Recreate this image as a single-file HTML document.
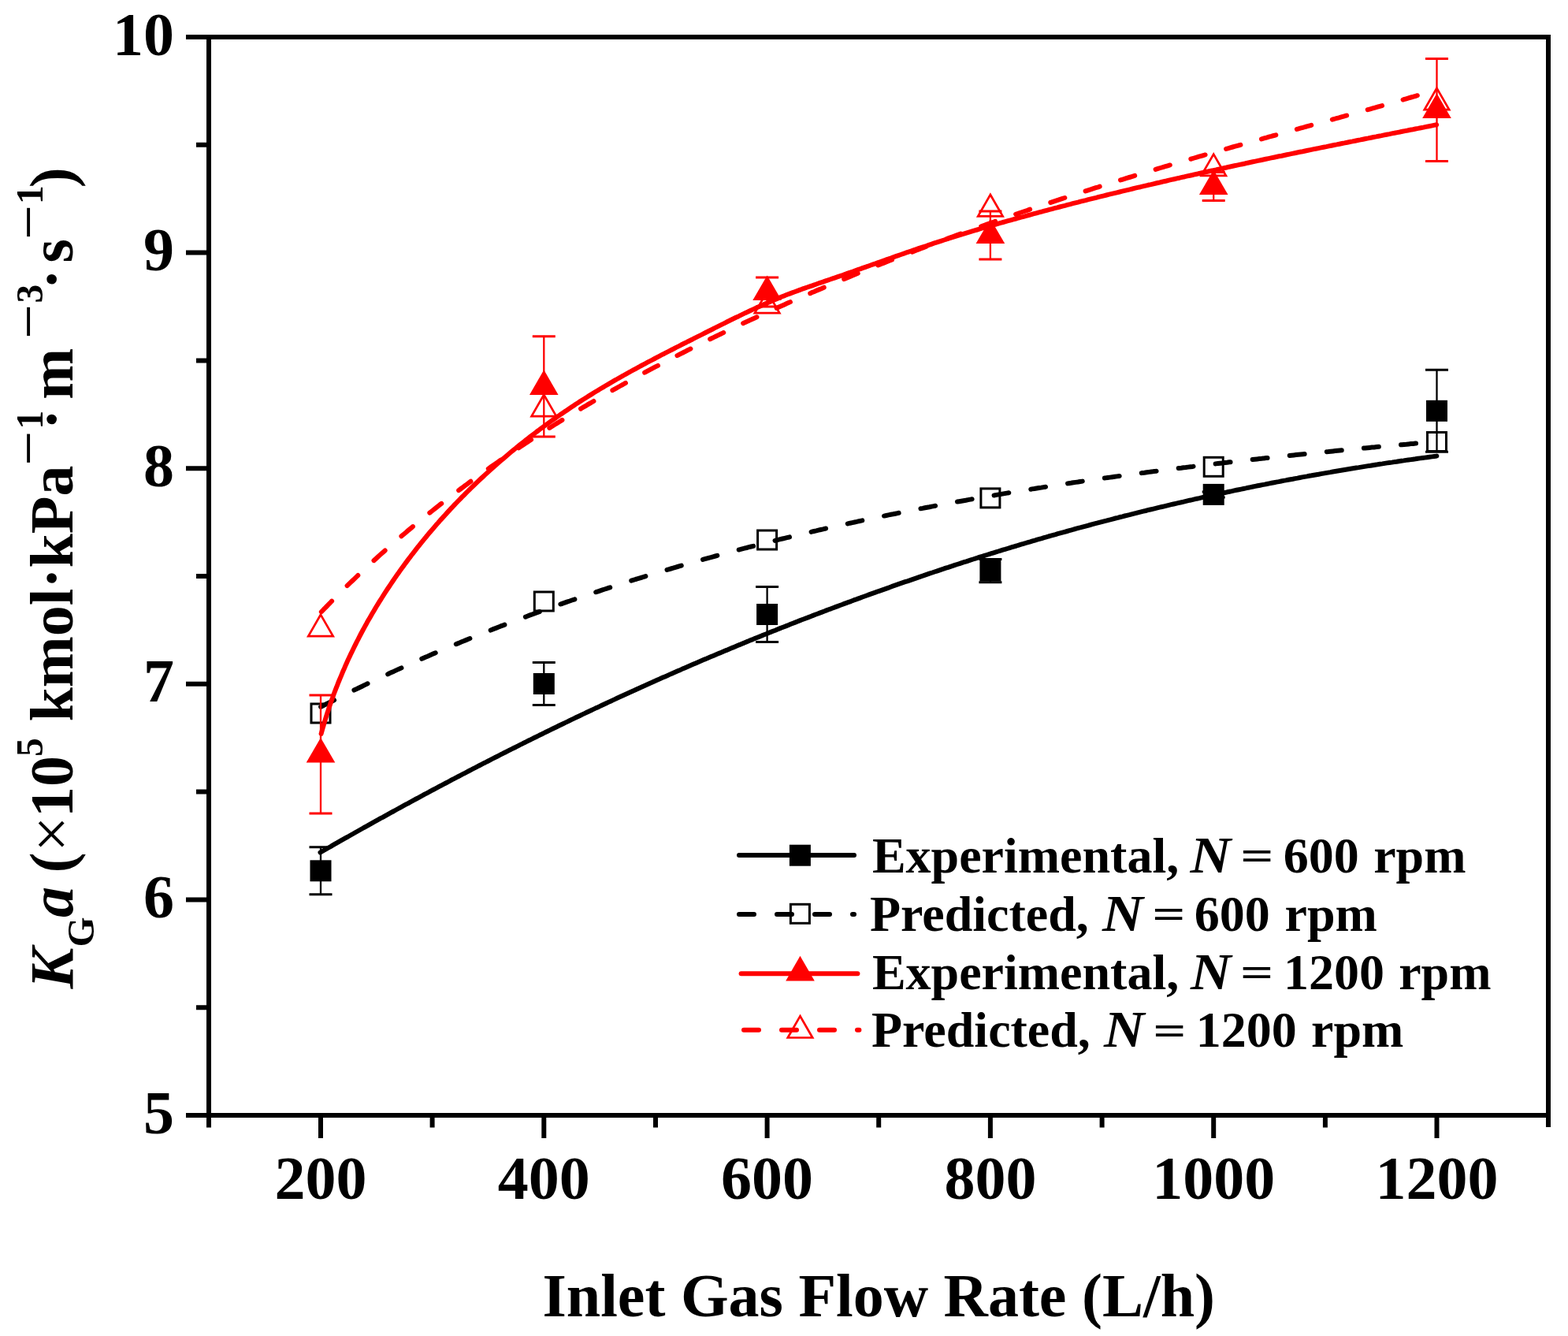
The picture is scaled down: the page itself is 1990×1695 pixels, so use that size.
<!DOCTYPE html><html><head><meta charset="utf-8"><style>html,body{margin:0;padding:0;background:#fff}svg{display:block}text{font-family:"Liberation Serif","Times New Roman",serif}</style></head><body>
<svg width="1990" height="1695" viewBox="0 0 1990 1695">
<rect width="1990" height="1695" fill="#fff"/>
<g stroke="#000" stroke-width="6" fill="none">
<path d="M265,47 H1965 V1415 H265 Z" stroke-linejoin="miter"/>
<path d="M407.0,1415 V1444 M690.3,1415 V1444 M973.6,1415 V1444 M1256.9,1415 V1444 M1540.2,1415 V1444 M1823.5,1415 V1444 M548.6,1415 V1430.5 M832.0,1415 V1430.5 M1115.2,1415 V1430.5 M1398.6,1415 V1430.5 M1681.9,1415 V1430.5 M265,1415 V1430.5 M1965,1415 V1430 M265,1415.0 H236 M265,1141.4 H236 M265,867.8 H236 M265,594.2 H236 M265,320.6 H236 M265,47.0 H236 M265,1278.2 H249 M265,1004.6 H249 M265,731.0 H249 M265,457.4 H249 M265,183.8 H249" stroke-linecap="butt"/>
</g>
<g font-weight="bold" font-size="78" fill="#000">
<text x="221" y="1437.5" text-anchor="end">5</text>
<text x="221" y="1163.9" text-anchor="end">6</text>
<text x="221" y="890.3" text-anchor="end">7</text>
<text x="221" y="616.7" text-anchor="end">8</text>
<text x="221" y="343.1" text-anchor="end">9</text>
<text x="221" y="69.5" text-anchor="end">10</text>
<text x="407.0" y="1521" text-anchor="middle">200</text>
<text x="690.3" y="1521" text-anchor="middle">400</text>
<text x="973.6" y="1521" text-anchor="middle">600</text>
<text x="1256.9" y="1521" text-anchor="middle">800</text>
<text x="1540.2" y="1521" text-anchor="middle">1000</text>
<text x="1823.5" y="1521" text-anchor="middle">1200</text>
</g>
<text x="688.4" y="1669.8" font-weight="bold" font-size="78">Inlet Gas Flow Rate (L/h)</text>
<g transform="translate(92,1255) rotate(-90)" fill="#000">
<text x="0.6" y="0.0" font-size="78" font-weight="bold" font-style="italic">K</text>
<text x="53.6" y="27.3" font-size="49" font-weight="bold" font-style="normal">G</text>
<text x="91.1" y="0.0" font-size="78" font-weight="bold" font-style="italic">a</text>
<text x="147.6" y="0.0" font-size="78" font-weight="bold" font-style="normal">(</text>
<text x="174.1" y="0.0" font-size="81" font-weight="normal" font-style="normal">×</text>
<text x="218.1" y="0.0" font-size="78" font-weight="bold" font-style="normal">10</text>
<text x="295.1" y="-38.0" font-size="47.5" font-weight="bold" font-style="normal">5</text>
<text x="339.4" y="0.0" font-size="78" font-weight="bold" font-style="normal">kmol·kPa</text>
<text x="664.3" y="-30.0" font-size="78" font-weight="normal" font-style="normal">−</text>
<text x="710.4" y="-38.0" font-size="47.5" font-weight="bold" font-style="normal">1</text>
<text x="710.0" y="0.0" font-size="78" font-weight="bold" font-style="normal">·</text>
<text x="748.3" y="0.0" font-size="78" font-weight="bold" font-style="normal">m</text>
<text x="825.0" y="-30.0" font-size="78" font-weight="normal" font-style="normal">−</text>
<text x="870.6" y="-38.0" font-size="47.5" font-weight="bold" font-style="normal">3</text>
<text x="887.8" y="0.0" font-size="78" font-weight="bold" font-style="normal">·</text>
<text x="921.4" y="0.0" font-size="78" font-weight="bold" font-style="normal">s</text>
<text x="951.0" y="-30.0" font-size="78" font-weight="normal" font-style="normal">−</text>
<text x="995.9" y="-38.0" font-size="47.5" font-weight="bold" font-style="normal">1</text>
<text x="1016.8" y="0.0" font-size="78" font-weight="bold" font-style="normal">)</text>
</g>
<g fill="none" stroke-width="6" stroke-linecap="round" stroke-linejoin="round">
<path d="M406.5,1081.5 L409.1,1080.0 L411.8,1078.5 L414.4,1077.0 L417.0,1075.5 L419.7,1074.0 L422.3,1072.4 L424.9,1070.9 L427.6,1069.4 L430.2,1067.9 L432.8,1066.4 L435.5,1064.9 L438.1,1063.4 L440.8,1062.0 L443.4,1060.5 L446.0,1059.0 L448.7,1057.5 L451.3,1056.0 L454.0,1054.5 L456.6,1053.0 L459.3,1051.5 L461.9,1050.0 L464.5,1048.6 L467.2,1047.1 L469.8,1045.6 L472.5,1044.1 L475.1,1042.7 L477.8,1041.2 L480.5,1039.7 L483.1,1038.2 L485.8,1036.8 L488.4,1035.3 L491.1,1033.8 L493.7,1032.4 L496.4,1030.9 L499.0,1029.5 L501.7,1028.0 L504.4,1026.5 L507.0,1025.1 L509.7,1023.6 L512.3,1022.2 L515.0,1020.7 L517.7,1019.3 L520.3,1017.8 L523.0,1016.4 L525.7,1014.9 L528.3,1013.5 L531.0,1012.1 L533.7,1010.6 L536.4,1009.2 L539.0,1007.7 L541.7,1006.3 L544.4,1004.9 L547.0,1003.4 L549.7,1002.0 L552.4,1000.6 L555.1,999.2 L557.8,997.7 L560.4,996.3 L563.1,994.9 L565.8,993.5 L568.5,992.1 L571.2,990.7 L573.8,989.2 L576.5,987.8 L579.2,986.4 L581.9,985.0 L584.6,983.6 L587.3,982.2 L590.0,980.8 L592.7,979.4 L595.3,978.0 L598.0,976.6 L600.7,975.2 L603.4,973.8 L606.1,972.4 L608.8,971.0 L611.5,969.6 L614.2,968.2 L616.9,966.9 L619.6,965.5 L622.3,964.1 L625.0,962.7 L627.7,961.3 L630.4,960.0 L633.1,958.6 L635.8,957.2 L638.5,955.8 L641.2,954.5 L643.9,953.1 L646.6,951.7 L649.3,950.4 L652.1,949.0 L654.8,947.7 L657.5,946.3 L660.2,944.9 L662.9,943.6 L665.6,942.2 L668.3,940.9 L671.0,939.5 L673.8,938.2 L676.5,936.8 L679.2,935.5 L681.9,934.2 L684.6,932.8 L687.4,931.5 L690.1,930.1 L692.8,928.8 L695.5,927.5 L698.3,926.1 L701.0,924.8 L703.7,923.5 L706.4,922.2 L709.2,920.8 L711.9,919.5 L714.6,918.2 L717.4,916.9 L720.1,915.6 L722.8,914.3 L725.6,912.9 L728.3,911.6 L731.0,910.3 L733.8,909.0 L736.5,907.7 L739.2,906.4 L742.0,905.1 L744.7,903.8 L747.5,902.5 L750.2,901.2 L753.0,899.9 L755.7,898.6 L758.4,897.4 L761.2,896.1 L763.9,894.8 L766.7,893.5 L769.4,892.2 L772.2,890.9 L774.9,889.7 L777.7,888.4 L780.4,887.1 L783.2,885.8 L785.9,884.6 L788.7,883.3 L791.5,882.0 L794.2,880.8 L797.0,879.5 L799.7,878.3 L802.5,877.0 L805.3,875.8 L808.0,874.5 L810.8,873.2 L813.5,872.0 L816.3,870.7 L819.1,869.5 L821.8,868.3 L824.6,867.0 L827.4,865.8 L830.2,864.5 L832.9,863.3 L835.7,862.1 L838.5,860.8 L841.2,859.6 L844.0,858.4 L846.8,857.2 L849.6,855.9 L852.3,854.7 L855.1,853.5 L857.9,852.3 L860.7,851.1 L863.5,849.9 L866.2,848.6 L869.0,847.4 L871.8,846.2 L874.6,845.0 L877.4,843.8 L880.2,842.6 L882.9,841.4 L885.7,840.2 L888.5,839.0 L891.3,837.8 L894.1,836.6 L896.9,835.5 L899.7,834.3 L902.5,833.1 L905.3,831.9 L908.1,830.7 L910.9,829.5 L913.7,828.4 L916.5,827.2 L919.3,826.0 L922.1,824.9 L924.9,823.7 L927.7,822.5 L930.5,821.4 L933.3,820.2 L936.1,819.0 L938.9,817.9 L941.7,816.7 L944.5,815.6 L947.3,814.4 L950.1,813.3 L952.9,812.1 L955.7,811.0 L958.5,809.8 L961.3,808.7 L964.2,807.6 L967.0,806.4 L969.8,805.3 L972.6,804.2 L975.4,803.0 L978.2,801.9 L981.0,800.8 L983.9,799.7 L986.7,798.5 L989.5,797.4 L992.3,796.3 L995.1,795.2 L998.0,794.1 L1000.8,793.0 L1003.6,791.8 L1006.4,790.7 L1009.3,789.6 L1012.1,788.5 L1014.9,787.4 L1017.7,786.3 L1020.6,785.2 L1023.4,784.2 L1026.2,783.1 L1029.1,782.0 L1031.9,780.9 L1034.7,779.8 L1037.6,778.7 L1040.4,777.6 L1043.2,776.6 L1046.1,775.5 L1048.9,774.4 L1051.8,773.3 L1054.6,772.3 L1057.4,771.2 L1060.3,770.1 L1063.1,769.1 L1066.0,768.0 L1068.8,767.0 L1071.6,765.9 L1074.5,764.9 L1077.3,763.8 L1080.2,762.8 L1083.0,761.7 L1085.9,760.7 L1088.7,759.6 L1091.6,758.6 L1094.4,757.5 L1097.3,756.5 L1100.1,755.5 L1103.0,754.4 L1105.8,753.4 L1108.7,752.4 L1111.5,751.4 L1114.4,750.3 L1117.3,749.3 L1120.1,748.3 L1123.0,747.3 L1125.8,746.3 L1128.7,745.3 L1131.5,744.2 L1134.4,743.2 L1137.3,742.2 L1140.1,741.2 L1143.0,740.2 L1145.9,739.2 L1148.7,738.2 L1151.6,737.3 L1154.5,736.3 L1157.3,735.3 L1160.2,734.3 L1163.1,733.3 L1165.9,732.3 L1168.8,731.3 L1171.7,730.4 L1174.6,729.4 L1177.4,728.4 L1180.3,727.4 L1183.2,726.5 L1186.0,725.5 L1188.9,724.6 L1191.8,723.6 L1194.7,722.6 L1197.6,721.7 L1200.4,720.7 L1203.3,719.8 L1206.2,718.8 L1209.1,717.9 L1212.0,716.9 L1214.8,716.0 L1217.7,715.1 L1220.6,714.1 L1223.5,713.2 L1226.4,712.3 L1229.3,711.3 L1232.2,710.4 L1235.0,709.5 L1237.9,708.6 L1240.8,707.7 L1243.7,706.7 L1246.6,705.8 L1249.5,704.9 L1252.4,704.0 L1255.3,703.1 L1258.2,702.2 L1261.1,701.3 L1264.0,700.4 L1266.9,699.5 L1269.8,698.6 L1272.7,697.7 L1275.6,696.9 L1278.5,696.0 L1281.4,695.1 L1284.3,694.2 L1287.2,693.3 L1290.1,692.5 L1293.0,691.6 L1295.9,690.7 L1298.8,689.9 L1301.7,689.0 L1304.6,688.1 L1307.5,687.3 L1310.4,686.4 L1313.4,685.6 L1316.3,684.7 L1319.2,683.9 L1322.1,683.1 L1325.0,682.2 L1327.9,681.4 L1330.8,680.5 L1333.8,679.7 L1336.7,678.9 L1339.6,678.1 L1342.5,677.2 L1345.4,676.4 L1348.3,675.6 L1351.3,674.8 L1354.2,674.0 L1357.1,673.2 L1360.0,672.4 L1363.0,671.5 L1365.9,670.7 L1368.8,669.9 L1371.7,669.2 L1374.7,668.4 L1377.6,667.6 L1380.5,666.8 L1383.4,666.0 L1386.4,665.2 L1389.3,664.4 L1392.2,663.7 L1395.2,662.9 L1398.1,662.1 L1401.0,661.3 L1404.0,660.6 L1406.9,659.8 L1409.8,659.1 L1412.8,658.3 L1415.7,657.5 L1418.7,656.8 L1421.6,656.0 L1424.5,655.3 L1427.5,654.5 L1430.4,653.8 L1433.4,653.1 L1436.3,652.3 L1439.2,651.6 L1442.2,650.9 L1445.1,650.1 L1448.1,649.4 L1451.0,648.7 L1454.0,648.0 L1456.9,647.2 L1459.9,646.5 L1462.8,645.8 L1465.8,645.1 L1468.7,644.4 L1471.7,643.7 L1474.6,643.0 L1477.6,642.3 L1480.5,641.6 L1483.5,640.9 L1486.4,640.2 L1489.4,639.5 L1492.3,638.8 L1495.3,638.1 L1498.2,637.5 L1501.2,636.8 L1504.1,636.1 L1507.1,635.4 L1510.1,634.7 L1513.0,634.1 L1516.0,633.4 L1518.9,632.7 L1521.9,632.1 L1524.9,631.4 L1527.8,630.8 L1530.8,630.1 L1533.7,629.5 L1536.7,628.8 L1539.7,628.2 L1542.6,627.5 L1545.6,626.9 L1548.6,626.2 L1551.5,625.6 L1554.5,625.0 L1557.5,624.3 L1560.4,623.7 L1563.4,623.1 L1566.4,622.4 L1569.3,621.8 L1572.3,621.2 L1575.3,620.6 L1578.3,620.0 L1581.2,619.4 L1584.2,618.7 L1587.2,618.1 L1590.1,617.5 L1593.1,616.9 L1596.1,616.3 L1599.1,615.7 L1602.0,615.1 L1605.0,614.6 L1608.0,614.0 L1611.0,613.4 L1613.9,612.8 L1616.9,612.2 L1619.9,611.6 L1622.9,611.1 L1625.9,610.5 L1628.8,609.9 L1631.8,609.4 L1634.8,608.8 L1637.8,608.2 L1640.8,607.7 L1643.7,607.1 L1646.7,606.6 L1649.7,606.0 L1652.7,605.4 L1655.7,604.9 L1658.7,604.4 L1661.6,603.8 L1664.6,603.3 L1667.6,602.7 L1670.6,602.2 L1673.6,601.7 L1676.6,601.1 L1679.6,600.6 L1682.5,600.1 L1685.5,599.6 L1688.5,599.1 L1691.5,598.5 L1694.5,598.0 L1697.5,597.5 L1700.5,597.0 L1703.5,596.5 L1706.5,596.0 L1709.5,595.5 L1712.4,595.0 L1715.4,594.5 L1718.4,594.0 L1721.4,593.5 L1724.4,593.1 L1727.4,592.6 L1730.4,592.1 L1733.4,591.6 L1736.4,591.1 L1739.4,590.7 L1742.4,590.2 L1745.4,589.7 L1748.4,589.3 L1751.4,588.8 L1754.4,588.4 L1757.4,587.9 L1760.4,587.4 L1763.4,587.0 L1766.4,586.6 L1769.4,586.1 L1772.4,585.7 L1775.4,585.2 L1778.4,584.8 L1781.4,584.4 L1784.4,583.9 L1787.4,583.5 L1790.4,583.1 L1793.4,582.7 L1796.4,582.3 L1799.4,581.8 L1802.4,581.4 L1805.4,581.0 L1808.4,580.6 L1811.4,580.2 L1814.4,579.8 L1817.4,579.4 L1820.4,579.0 L1823.4,578.6" stroke="#000"/>
<path d="M406.7,897.1 L409.3,895.7 L411.9,894.4 L414.6,893.0 L417.2,891.7 L419.9,890.3 L422.5,889.0 L425.1,887.7 L427.8,886.3 L430.4,885.0 L433.1,883.7 L435.7,882.4 L438.3,881.1 L441.0,879.8 L443.6,878.4 L446.3,877.1 L448.9,875.8 L451.6,874.6 L454.3,873.3 L456.9,872.0 L459.6,870.7 L462.2,869.4 L464.9,868.1 L467.5,866.9 L470.2,865.6 L472.9,864.3 L475.5,863.1 L478.2,861.8 L480.9,860.5 L483.5,859.3 L486.2,858.0 L488.9,856.8 L491.6,855.6 L494.2,854.3 L496.9,853.1 L499.6,851.9 L502.3,850.6 L504.9,849.4 L507.6,848.2 L510.3,847.0 L513.0,845.8 L515.7,844.5 L518.3,843.3 L521.0,842.1 L523.7,840.9 L526.4,839.7 L529.1,838.6 L531.8,837.4 L534.5,836.2 L537.2,835.0 L539.9,833.8 L542.6,832.7 L545.3,831.5 L548.0,830.3 L550.7,829.1 L553.4,828.0 L556.1,826.8 L558.8,825.7 L561.5,824.5 L564.2,823.4 L566.9,822.2 L569.6,821.1 L572.3,820.0 L575.0,818.8 L577.7,817.7 L580.4,816.6 L583.2,815.4 L585.9,814.3 L588.6,813.2 L591.3,812.1 L594.0,811.0 L596.7,809.9 L599.5,808.8 L602.2,807.7 L604.9,806.6 L607.6,805.5 L610.4,804.4 L613.1,803.3 L615.8,802.2 L618.5,801.1 L621.3,800.1 L624.0,799.0 L626.7,797.9 L629.5,796.9 L632.2,795.8 L634.9,794.7 L637.7,793.7 L640.4,792.6 L643.2,791.6 L645.9,790.5 L648.6,789.5 L651.4,788.4 L654.1,787.4 L656.9,786.4 L659.6,785.3 L662.4,784.3 L665.1,783.3 L667.9,782.3 L670.6,781.2 L673.4,780.2 L676.1,779.2 L678.9,778.2 L681.6,777.2 L684.4,776.2 L687.1,775.2 L689.9,774.2 L692.6,773.2 L695.4,772.2 L698.2,771.2 L700.9,770.2 L703.7,769.3 L706.5,768.3 L709.2,767.3 L712.0,766.3 L714.7,765.4 L717.5,764.4 L720.3,763.4 L723.1,762.5 L725.8,761.5 L728.6,760.6 L731.4,759.6 L734.1,758.7 L736.9,757.7 L739.7,756.8 L742.5,755.8 L745.2,754.9 L748.0,754.0 L750.8,753.0 L753.6,752.1 L756.4,751.2 L759.1,750.3 L761.9,749.3 L764.7,748.4 L767.5,747.5 L770.3,746.6 L773.1,745.7 L775.9,744.8 L778.6,743.9 L781.4,743.0 L784.2,742.1 L787.0,741.2 L789.8,740.3 L792.6,739.4 L795.4,738.6 L798.2,737.7 L801.0,736.8 L803.8,735.9 L806.6,735.0 L809.4,734.2 L812.2,733.3 L815.0,732.5 L817.8,731.6 L820.6,730.7 L823.4,729.9 L826.2,729.0 L829.0,728.2 L831.8,727.3 L834.6,726.5 L837.4,725.6 L840.2,724.8 L843.0,724.0 L845.8,723.1 L848.7,722.3 L851.5,721.5 L854.3,720.7 L857.1,719.8 L859.9,719.0 L862.7,718.2 L865.5,717.4 L868.4,716.6 L871.2,715.8 L874.0,715.0 L876.8,714.2 L879.6,713.4 L882.4,712.6 L885.3,711.8 L888.1,711.0 L890.9,710.2 L893.7,709.4 L896.6,708.6 L899.4,707.8 L902.2,707.1 L905.0,706.3 L907.9,705.5 L910.7,704.7 L913.5,704.0 L916.4,703.2 L919.2,702.5 L922.0,701.7 L924.9,700.9 L927.7,700.2 L930.5,699.4 L933.4,698.7 L936.2,697.9 L939.0,697.2 L941.9,696.4 L944.7,695.7 L947.5,695.0 L950.4,694.2 L953.2,693.5 L956.1,692.8 L958.9,692.1 L961.7,691.3 L964.6,690.6 L967.4,689.9 L970.3,689.2 L973.1,688.5 L976.0,687.7 L978.8,687.0 L981.7,686.3 L984.5,685.6 L987.3,684.9 L990.2,684.2 L993.0,683.5 L995.9,682.8 L998.7,682.1 L1001.6,681.5 L1004.5,680.8 L1007.3,680.1 L1010.2,679.4 L1013.0,678.7 L1015.9,678.0 L1018.7,677.4 L1021.6,676.7 L1024.4,676.0 L1027.3,675.4 L1030.2,674.7 L1033.0,674.0 L1035.9,673.4 L1038.7,672.7 L1041.6,672.0 L1044.5,671.4 L1047.3,670.7 L1050.2,670.1 L1053.0,669.4 L1055.9,668.8 L1058.8,668.2 L1061.6,667.5 L1064.5,666.9 L1067.4,666.2 L1070.2,665.6 L1073.1,665.0 L1076.0,664.4 L1078.8,663.7 L1081.7,663.1 L1084.6,662.5 L1087.4,661.9 L1090.3,661.2 L1093.2,660.6 L1096.1,660.0 L1098.9,659.4 L1101.8,658.8 L1104.7,658.2 L1107.5,657.6 L1110.4,657.0 L1113.3,656.4 L1116.2,655.8 L1119.0,655.2 L1121.9,654.6 L1124.8,654.0 L1127.7,653.4 L1130.6,652.8 L1133.4,652.3 L1136.3,651.7 L1139.2,651.1 L1142.1,650.5 L1145.0,649.9 L1147.8,649.4 L1150.7,648.8 L1153.6,648.2 L1156.5,647.7 L1159.4,647.1 L1162.3,646.5 L1165.1,646.0 L1168.0,645.4 L1170.9,644.9 L1173.8,644.3 L1176.7,643.7 L1179.6,643.2 L1182.4,642.6 L1185.3,642.1 L1188.2,641.6 L1191.1,641.0 L1194.0,640.5 L1196.9,639.9 L1199.8,639.4 L1202.7,638.9 L1205.6,638.3 L1208.4,637.8 L1211.3,637.3 L1214.2,636.7 L1217.1,636.2 L1220.0,635.7 L1222.9,635.2 L1225.8,634.7 L1228.7,634.1 L1231.6,633.6 L1234.5,633.1 L1237.4,632.6 L1240.3,632.1 L1243.2,631.6 L1246.1,631.1 L1249.0,630.6 L1251.9,630.1 L1254.8,629.6 L1257.7,629.1 L1260.6,628.6 L1263.4,628.1 L1266.3,627.6 L1269.2,627.1 L1272.1,626.6 L1275.0,626.1 L1277.9,625.6 L1280.8,625.2 L1283.7,624.7 L1286.6,624.2 L1289.5,623.7 L1292.5,623.2 L1295.4,622.8 L1298.3,622.3 L1301.2,621.8 L1304.1,621.4 L1307.0,620.9 L1309.9,620.4 L1312.8,620.0 L1315.7,619.5 L1318.6,619.0 L1321.5,618.6 L1324.4,618.1 L1327.3,617.7 L1330.2,617.2 L1333.1,616.8 L1336.0,616.3 L1338.9,615.9 L1341.8,615.4 L1344.7,615.0 L1347.6,614.5 L1350.5,614.1 L1353.5,613.6 L1356.4,613.2 L1359.3,612.8 L1362.2,612.3 L1365.1,611.9 L1368.0,611.5 L1370.9,611.0 L1373.8,610.6 L1376.7,610.2 L1379.6,609.8 L1382.5,609.3 L1385.5,608.9 L1388.4,608.5 L1391.3,608.1 L1394.2,607.7 L1397.1,607.3 L1400.0,606.8 L1402.9,606.4 L1405.8,606.0 L1408.7,605.6 L1411.7,605.2 L1414.6,604.8 L1417.5,604.4 L1420.4,604.0 L1423.3,603.6 L1426.2,603.2 L1429.1,602.8 L1432.0,602.4 L1435.0,602.0 L1437.9,601.6 L1440.8,601.2 L1443.7,600.8 L1446.6,600.4 L1449.5,600.0 L1452.4,599.7 L1455.4,599.3 L1458.3,598.9 L1461.2,598.5 L1464.1,598.1 L1467.0,597.8 L1469.9,597.4 L1472.9,597.0 L1475.8,596.6 L1478.7,596.2 L1481.6,595.9 L1484.5,595.5 L1487.4,595.1 L1490.3,594.8 L1493.3,594.4 L1496.2,594.0 L1499.1,593.7 L1502.0,593.3 L1504.9,593.0 L1507.8,592.6 L1510.8,592.2 L1513.7,591.9 L1516.6,591.5 L1519.5,591.2 L1522.4,590.8 L1525.3,590.5 L1528.3,590.1 L1531.2,589.8 L1534.1,589.4 L1537.0,589.1 L1539.9,588.7 L1542.8,588.4 L1545.8,588.0 L1548.7,587.7 L1551.6,587.4 L1554.5,587.0 L1557.4,586.7 L1560.3,586.3 L1563.3,586.0 L1566.2,585.7 L1569.1,585.3 L1572.0,585.0 L1574.9,584.7 L1577.9,584.3 L1580.8,584.0 L1583.7,583.7 L1586.6,583.4 L1589.5,583.0 L1592.4,582.7 L1595.4,582.4 L1598.3,582.1 L1601.2,581.8 L1604.1,581.4 L1607.0,581.1 L1609.9,580.8 L1612.9,580.5 L1615.8,580.2 L1618.7,579.9 L1621.6,579.6 L1624.5,579.2 L1627.4,578.9 L1630.4,578.6 L1633.3,578.3 L1636.2,578.0 L1639.1,577.7 L1642.0,577.4 L1644.9,577.1 L1647.9,576.8 L1650.8,576.5 L1653.7,576.2 L1656.6,575.9 L1659.5,575.6 L1662.4,575.3 L1665.4,575.0 L1668.3,574.7 L1671.2,574.4 L1674.1,574.1 L1677.0,573.8 L1679.9,573.5 L1682.9,573.2 L1685.8,573.0 L1688.7,572.7 L1691.6,572.4 L1694.5,572.1 L1697.4,571.8 L1700.3,571.5 L1703.3,571.2 L1706.2,571.0 L1709.1,570.7 L1712.0,570.4 L1714.9,570.1 L1717.8,569.8 L1720.7,569.6 L1723.6,569.3 L1726.6,569.0 L1729.5,568.7 L1732.4,568.5 L1735.3,568.2 L1738.2,567.9 L1741.1,567.6 L1744.0,567.4 L1746.9,567.1 L1749.9,566.8 L1752.8,566.6 L1755.7,566.3 L1758.6,566.0 L1761.5,565.8 L1764.4,565.5 L1767.3,565.2 L1770.2,565.0 L1773.1,564.7 L1776.1,564.4 L1779.0,564.2 L1781.9,563.9 L1784.8,563.7 L1787.7,563.4 L1790.6,563.1 L1793.5,562.9 L1796.4,562.6 L1799.3,562.4 L1802.2,562.1 L1805.1,561.9 L1808.0,561.6 L1810.9,561.3 L1813.9,561.1 L1816.8,560.8 L1819.7,560.6 L1822.6,560.3" stroke="#000" stroke-dasharray="19 28.33" stroke-dashoffset="-0.5"/>
</g>
<path d="M407.0,1074.8 V1134.8" stroke="#000" stroke-width="2.3" fill="none"/><path d="M392.5,1074.8 H421.5 M392.5,1134.8 H421.5" stroke="#000" stroke-width="3" fill="none"/>
<path d="M690.3,840.5 V894.5" stroke="#000" stroke-width="2.3" fill="none"/><path d="M675.8,840.5 H704.8 M675.8,894.5 H704.8" stroke="#000" stroke-width="3" fill="none"/>
<path d="M973.6,744.5 V814.5" stroke="#000" stroke-width="2.3" fill="none"/><path d="M959.1,744.5 H988.1 M959.1,814.5 H988.1" stroke="#000" stroke-width="3" fill="none"/>
<path d="M1256.9,709.5 V738.7" stroke="#000" stroke-width="2.3" fill="none"/><path d="M1242.4,709.5 H1271.4 M1242.4,738.7 H1271.4" stroke="#000" stroke-width="3" fill="none"/>
<path d="M1540.2,623.9 V630.9" stroke="#000" stroke-width="2.3" fill="none"/><path d="M1525.7,623.9 H1554.7 M1525.7,630.9 H1554.7" stroke="#000" stroke-width="3" fill="none"/>
<path d="M1823.5,469.3 V573.3" stroke="#000" stroke-width="2.3" fill="none"/><path d="M1809.0,469.3 H1838.0 M1809.0,573.3 H1838.0" stroke="#000" stroke-width="3" fill="none"/>
<rect x="393.5" y="1091.3" width="27" height="27" fill="#000"/>
<rect x="676.8" y="854.0" width="27" height="27" fill="#000"/>
<rect x="960.1" y="766.0" width="27" height="27" fill="#000"/>
<rect x="1243.4" y="710.6" width="27" height="27" fill="#000"/>
<rect x="1526.7" y="613.9" width="27" height="27" fill="#000"/>
<rect x="1810.0" y="507.8" width="27" height="27" fill="#000"/>
<rect x="395.0" y="893.0" width="24" height="24" fill="none" stroke="#000" stroke-width="3"/>
<rect x="678.3" y="751.0" width="24" height="24" fill="none" stroke="#000" stroke-width="3"/>
<rect x="961.6" y="673.0" width="24" height="24" fill="none" stroke="#000" stroke-width="3"/>
<rect x="1244.9" y="619.9" width="24" height="24" fill="none" stroke="#000" stroke-width="3"/>
<rect x="1528.2" y="580.3" width="24" height="24" fill="none" stroke="#000" stroke-width="3"/>
<rect x="1811.5" y="548.5" width="24" height="24" fill="none" stroke="#000" stroke-width="3"/>
<g fill="none" stroke-width="6" stroke-linecap="round" stroke-linejoin="round">
<path d="M407.6,931.0 L408.5,927.7 L409.4,924.4 L410.4,921.2 L411.3,917.9 L412.3,914.7 L413.3,911.4 L414.3,908.2 L415.3,905.0 L416.4,901.7 L417.4,898.5 L418.5,895.3 L419.6,892.1 L420.7,888.9 L421.9,885.7 L423.0,882.5 L424.2,879.3 L425.4,876.2 L426.6,873.0 L427.9,869.8 L429.1,866.7 L430.4,863.5 L431.7,860.4 L433.0,857.3 L434.3,854.1 L435.6,851.0 L437.0,847.9 L438.3,844.8 L439.7,841.7 L441.1,838.6 L442.5,835.5 L444.0,832.4 L445.4,829.3 L446.9,826.3 L448.4,823.2 L449.9,820.2 L451.4,817.1 L452.9,814.1 L454.5,811.1 L456.0,808.1 L457.6,805.0 L459.2,802.0 L460.8,799.0 L462.4,796.1 L464.1,793.1 L465.7,790.1 L467.4,787.1 L469.1,784.2 L470.8,781.2 L472.5,778.3 L474.2,775.4 L476.0,772.4 L477.7,769.5 L479.5,766.6 L481.3,763.7 L483.1,760.8 L484.9,758.0 L486.7,755.1 L488.6,752.2 L490.4,749.4 L492.3,746.5 L494.2,743.7 L496.1,740.9 L498.0,738.0 L499.9,735.2 L501.8,732.4 L503.8,729.6 L505.7,726.9 L507.7,724.1 L509.7,721.3 L511.7,718.6 L513.7,715.8 L515.7,713.1 L517.7,710.4 L519.8,707.7 L521.8,704.9 L523.9,702.3 L526.0,699.6 L528.1,696.9 L530.2,694.2 L532.3,691.6 L534.4,688.9 L536.5,686.3 L538.7,683.6 L540.9,681.0 L543.0,678.4 L545.2,675.8 L547.4,673.2 L549.6,670.7 L551.8,668.1 L554.0,665.5 L556.3,663.0 L558.5,660.4 L560.8,657.9 L563.1,655.4 L565.3,652.9 L567.6,650.4 L569.9,647.9 L572.2,645.4 L574.6,642.9 L576.9,640.4 L579.2,638.0 L581.6,635.5 L584.0,633.1 L586.3,630.7 L588.7,628.3 L591.1,625.9 L593.5,623.5 L595.9,621.1 L598.4,618.7 L600.8,616.3 L603.2,614.0 L605.7,611.6 L608.2,609.3 L610.6,607.0 L613.1,604.7 L615.6,602.4 L618.1,600.1 L620.6,597.8 L623.1,595.5 L625.7,593.2 L628.2,591.0 L630.8,588.7 L633.3,586.5 L635.9,584.3 L638.5,582.1 L641.0,579.9 L643.6,577.7 L646.2,575.5 L648.8,573.3 L651.5,571.1 L654.1,569.0 L656.7,566.8 L659.4,564.7 L662.0,562.6 L664.7,560.5 L667.3,558.4 L670.0,556.3 L672.7,554.2 L675.4,552.1 L678.1,550.1 L680.8,548.0 L683.5,546.0 L686.2,543.9 L689.0,541.9 L691.7,539.9 L694.5,537.9 L697.2,535.9 L700.0,533.9 L702.7,532.0 L705.5,530.0 L708.3,528.1 L711.1,526.1 L713.9,524.2 L716.7,522.3 L719.5,520.4 L722.3,518.5 L725.2,516.6 L728.0,514.7 L730.8,512.8 L733.7,511.0 L736.5,509.1 L739.4,507.3 L742.3,505.5 L745.1,503.7 L748.0,501.9 L750.9,500.1 L753.8,498.3 L756.7,496.5 L759.6,494.8 L762.5,493.0 L765.4,491.3 L768.4,489.5 L771.3,487.8 L774.2,486.1 L777.2,484.4 L780.1,482.7 L783.1,481.0 L786.0,479.3 L789.0,477.7 L791.9,476.0 L794.9,474.3 L797.9,472.7 L800.9,471.0 L803.8,469.4 L806.8,467.8 L809.8,466.2 L812.8,464.5 L815.8,462.9 L818.8,461.3 L821.8,459.7 L824.8,458.1 L827.8,456.6 L830.8,455.0 L833.8,453.4 L836.8,451.8 L839.9,450.2 L842.9,448.7 L845.9,447.1 L848.9,445.6 L852.0,444.0 L855.0,442.5 L858.0,440.9 L861.1,439.4 L864.1,437.8 L867.1,436.3 L870.2,434.8 L873.2,433.2 L876.2,431.7 L879.3,430.2 L882.3,428.6 L885.3,427.1 L888.4,425.6 L891.4,424.1 L894.5,422.5 L897.5,421.0 L900.5,419.5 L903.6,418.0 L906.6,416.4 L909.7,414.9 L912.7,413.4 L915.7,411.9 L918.8,410.4 L921.8,408.8 L924.9,407.3 L927.9,405.8 L931.0,404.3 L934.0,402.8 L937.1,401.4 L940.1,399.9 L943.2,398.4 L946.2,396.9 L949.3,395.5 L952.4,394.0 L955.4,392.6 L958.5,391.2 L961.6,389.8 L964.7,388.4 L967.8,387.0 L970.9,385.6 L974.0,384.2 L977.1,382.9 L980.2,381.5 L983.3,380.2 L986.5,378.9 L989.6,377.6 L992.7,376.3 L995.9,375.1 L999.0,373.8 L1002.2,372.6 L1005.4,371.4 L1008.6,370.2 L1011.7,369.1 L1014.9,367.9 L1018.1,366.7 L1021.3,365.6 L1024.5,364.5 L1027.8,363.4 L1031.0,362.3 L1034.2,361.2 L1037.4,360.0 L1040.6,358.9 L1043.9,357.8 L1047.1,356.7 L1050.3,355.6 L1053.5,354.5 L1056.7,353.4 L1059.9,352.3 L1063.2,351.2 L1066.4,350.1 L1069.6,349.0 L1072.8,347.8 L1076.0,346.7 L1079.2,345.6 L1082.4,344.5 L1085.6,343.3 L1088.8,342.2 L1092.0,341.1 L1095.2,339.9 L1098.4,338.8 L1101.7,337.7 L1104.9,336.5 L1108.1,335.4 L1111.3,334.3 L1114.5,333.1 L1117.7,332.0 L1120.9,330.9 L1124.1,329.7 L1127.3,328.6 L1130.5,327.5 L1133.7,326.3 L1136.9,325.2 L1140.1,324.1 L1143.3,323.0 L1146.5,321.9 L1149.7,320.7 L1153.0,319.6 L1156.2,318.5 L1159.4,317.4 L1162.6,316.3 L1165.8,315.2 L1169.0,314.1 L1172.2,313.0 L1175.5,312.0 L1178.7,310.9 L1181.9,309.8 L1185.1,308.7 L1188.4,307.7 L1191.6,306.6 L1194.8,305.6 L1198.1,304.5 L1201.3,303.5 L1204.5,302.4 L1207.8,301.4 L1211.0,300.4 L1214.2,299.4 L1217.5,298.4 L1220.7,297.4 L1224.0,296.4 L1227.2,295.4 L1230.5,294.4 L1233.7,293.4 L1237.0,292.4 L1240.2,291.5 L1243.5,290.5 L1246.8,289.5 L1250.0,288.6 L1253.3,287.6 L1256.5,286.7 L1259.8,285.7 L1263.1,284.8 L1266.3,283.9 L1269.6,282.9 L1272.9,282.0 L1276.1,281.1 L1279.4,280.2 L1282.7,279.3 L1286.0,278.4 L1289.2,277.5 L1292.5,276.5 L1295.8,275.6 L1299.1,274.8 L1302.4,273.9 L1305.6,273.0 L1308.9,272.1 L1312.2,271.2 L1315.5,270.3 L1318.8,269.4 L1322.0,268.6 L1325.3,267.7 L1328.6,266.8 L1331.9,265.9 L1335.2,265.1 L1338.5,264.2 L1341.8,263.4 L1345.0,262.5 L1348.3,261.6 L1351.6,260.8 L1354.9,259.9 L1358.2,259.1 L1361.5,258.2 L1364.8,257.4 L1368.1,256.6 L1371.4,255.7 L1374.7,254.9 L1378.0,254.1 L1381.3,253.2 L1384.6,252.4 L1387.8,251.6 L1391.1,250.8 L1394.4,249.9 L1397.7,249.1 L1401.0,248.3 L1404.3,247.5 L1407.6,246.7 L1410.9,245.9 L1414.2,245.1 L1417.5,244.3 L1420.9,243.5 L1424.2,242.7 L1427.5,241.9 L1430.8,241.1 L1434.1,240.3 L1437.4,239.5 L1440.7,238.7 L1444.0,237.9 L1447.3,237.2 L1450.6,236.4 L1453.9,235.6 L1457.2,234.8 L1460.5,234.1 L1463.8,233.3 L1467.2,232.5 L1470.5,231.8 L1473.8,231.0 L1477.1,230.2 L1480.4,229.5 L1483.7,228.7 L1487.0,227.9 L1490.3,227.2 L1493.7,226.4 L1497.0,225.7 L1500.3,224.9 L1503.6,224.2 L1506.9,223.4 L1510.2,222.7 L1513.6,222.0 L1516.9,221.2 L1520.2,220.5 L1523.5,219.7 L1526.8,219.0 L1530.1,218.3 L1533.5,217.5 L1536.8,216.8 L1540.1,216.1 L1543.4,215.4 L1546.7,214.6 L1550.1,213.9 L1553.4,213.2 L1556.7,212.5 L1560.0,211.7 L1563.4,211.0 L1566.7,210.3 L1570.0,209.6 L1573.3,208.9 L1576.7,208.2 L1580.0,207.5 L1583.3,206.7 L1586.6,206.0 L1590.0,205.3 L1593.3,204.6 L1596.6,203.9 L1599.9,203.2 L1603.3,202.5 L1606.6,201.8 L1609.9,201.1 L1613.2,200.4 L1616.6,199.7 L1619.9,199.0 L1623.2,198.3 L1626.6,197.7 L1629.9,197.0 L1633.2,196.3 L1636.5,195.6 L1639.9,194.9 L1643.2,194.2 L1646.5,193.5 L1649.9,192.8 L1653.2,192.2 L1656.5,191.5 L1659.9,190.8 L1663.2,190.1 L1666.5,189.4 L1669.8,188.8 L1673.2,188.1 L1676.5,187.4 L1679.8,186.7 L1683.2,186.1 L1686.5,185.4 L1689.8,184.7 L1693.2,184.0 L1696.5,183.4 L1699.8,182.7 L1703.2,182.0 L1706.5,181.4 L1709.8,180.7 L1713.2,180.0 L1716.5,179.4 L1719.8,178.7 L1723.2,178.0 L1726.5,177.4 L1729.8,176.7 L1733.2,176.0 L1736.5,175.4 L1739.8,174.7 L1743.2,174.0 L1746.5,173.4 L1749.8,172.7 L1753.2,172.1 L1756.5,171.4 L1759.8,170.7 L1763.2,170.1 L1766.5,169.4 L1769.8,168.8 L1773.2,168.1 L1776.5,167.5 L1779.8,166.8 L1783.2,166.1 L1786.5,165.5 L1789.8,164.8 L1793.2,164.2 L1796.5,163.5 L1799.8,162.9 L1803.2,162.2 L1806.5,161.6 L1809.8,160.9 L1813.2,160.3 L1816.5,159.6 L1819.8,158.9 L1823.2,158.3" stroke="#f00"/>
<path d="M406.4,777.8 L408.6,775.5 L410.8,773.2 L413.1,770.9 L415.3,768.6 L417.5,766.3 L419.8,764.0 L422.0,761.7 L424.2,759.4 L426.5,757.2 L428.8,754.9 L431.0,752.6 L433.3,750.4 L435.5,748.1 L437.8,745.9 L440.1,743.6 L442.4,741.4 L444.7,739.2 L447.0,737.0 L449.3,734.8 L451.6,732.6 L453.9,730.4 L456.2,728.2 L458.5,726.0 L460.8,723.8 L463.2,721.6 L465.5,719.4 L467.8,717.3 L470.2,715.1 L472.5,713.0 L474.9,710.8 L477.2,708.7 L479.6,706.5 L481.9,704.4 L484.3,702.3 L486.7,700.2 L489.1,698.1 L491.4,695.9 L493.8,693.8 L496.2,691.8 L498.6,689.7 L501.0,687.6 L503.4,685.5 L505.8,683.4 L508.2,681.4 L510.6,679.3 L513.1,677.2 L515.5,675.2 L517.9,673.1 L520.3,671.1 L522.8,669.1 L525.2,667.0 L527.7,665.0 L530.1,663.0 L532.6,661.0 L535.0,659.0 L537.5,657.0 L540.0,655.0 L542.4,653.0 L544.9,651.0 L547.4,649.0 L549.9,647.0 L552.3,645.1 L554.8,643.1 L557.3,641.2 L559.8,639.2 L562.3,637.3 L564.8,635.3 L567.3,633.4 L569.9,631.4 L572.4,629.5 L574.9,627.6 L577.4,625.7 L580.0,623.8 L582.5,621.9 L585.0,620.0 L587.6,618.1 L590.1,616.2 L592.7,614.3 L595.2,612.4 L597.8,610.5 L600.3,608.7 L602.9,606.8 L605.4,604.9 L608.0,603.1 L610.6,601.2 L613.2,599.4 L615.7,597.5 L618.3,595.7 L620.9,593.9 L623.5,592.0 L626.1,590.2 L628.7,588.4 L631.3,586.6 L633.9,584.8 L636.5,583.0 L639.1,581.2 L641.7,579.4 L644.4,577.6 L647.0,575.8 L649.6,574.1 L652.2,572.3 L654.9,570.5 L657.5,568.8 L660.1,567.0 L662.8,565.3 L665.4,563.5 L668.1,561.8 L670.7,560.0 L673.4,558.3 L676.0,556.6 L678.7,554.8 L681.4,553.1 L684.0,551.4 L686.7,549.7 L689.4,548.0 L692.1,546.3 L694.7,544.6 L697.4,542.9 L700.1,541.2 L702.8,539.5 L705.5,537.8 L708.2,536.2 L710.9,534.5 L713.6,532.8 L716.3,531.2 L719.0,529.5 L721.7,527.9 L724.4,526.2 L727.1,524.6 L729.8,522.9 L732.6,521.3 L735.3,519.7 L738.0,518.0 L740.7,516.4 L743.5,514.8 L746.2,513.2 L748.9,511.6 L751.7,510.0 L754.4,508.4 L757.2,506.8 L759.9,505.2 L762.7,503.6 L765.4,502.0 L768.2,500.4 L770.9,498.9 L773.7,497.3 L776.5,495.7 L779.2,494.2 L782.0,492.6 L784.8,491.0 L787.5,489.5 L790.3,488.0 L793.1,486.4 L795.9,484.9 L798.7,483.3 L801.5,481.8 L804.2,480.3 L807.0,478.8 L809.8,477.2 L812.6,475.7 L815.4,474.2 L818.2,472.7 L821.0,471.2 L823.8,469.7 L826.6,468.2 L829.4,466.7 L832.3,465.2 L835.1,463.8 L837.9,462.3 L840.7,460.8 L843.5,459.3 L846.3,457.9 L849.2,456.4 L852.0,454.9 L854.8,453.5 L857.6,452.0 L860.5,450.6 L863.3,449.1 L866.2,447.7 L869.0,446.3 L871.8,444.8 L874.7,443.4 L877.5,442.0 L880.4,440.5 L883.2,439.1 L886.1,437.7 L888.9,436.3 L891.8,434.9 L894.6,433.5 L897.5,432.1 L900.3,430.7 L903.2,429.3 L906.1,427.9 L908.9,426.5 L911.8,425.1 L914.7,423.7 L917.5,422.4 L920.4,421.0 L923.3,419.6 L926.1,418.2 L929.0,416.9 L931.9,415.5 L934.8,414.2 L937.7,412.8 L940.5,411.5 L943.4,410.1 L946.3,408.8 L949.2,407.4 L952.1,406.1 L955.0,404.7 L957.9,403.4 L960.8,402.1 L963.7,400.8 L966.6,399.4 L969.5,398.1 L972.4,396.8 L975.3,395.5 L978.2,394.2 L981.1,392.9 L984.0,391.6 L986.9,390.3 L989.8,389.0 L992.7,387.7 L995.6,386.4 L998.5,385.1 L1001.4,383.8 L1004.3,382.5 L1007.2,381.3 L1010.2,380.0 L1013.1,378.7 L1016.0,377.5 L1018.9,376.2 L1021.8,374.9 L1024.7,373.7 L1027.7,372.4 L1030.6,371.1 L1033.5,369.9 L1036.4,368.6 L1039.4,367.4 L1042.3,366.2 L1045.2,364.9 L1048.1,363.7 L1051.1,362.4 L1054.0,361.2 L1056.9,360.0 L1059.9,358.8 L1062.8,357.5 L1065.7,356.3 L1068.7,355.1 L1071.6,353.9 L1074.5,352.7 L1077.5,351.5 L1080.4,350.2 L1083.4,349.0 L1086.3,347.8 L1089.2,346.6 L1092.2,345.4 L1095.1,344.2 L1098.1,343.1 L1101.0,341.9 L1104.0,340.7 L1106.9,339.5 L1109.9,338.3 L1112.8,337.1 L1115.8,336.0 L1118.7,334.8 L1121.7,333.6 L1124.6,332.5 L1127.6,331.3 L1130.5,330.1 L1133.5,329.0 L1136.4,327.8 L1139.4,326.7 L1142.4,325.5 L1145.3,324.4 L1148.3,323.2 L1151.2,322.1 L1154.2,320.9 L1157.2,319.8 L1160.1,318.7 L1163.1,317.5 L1166.1,316.4 L1169.0,315.3 L1172.0,314.1 L1175.0,313.0 L1177.9,311.9 L1180.9,310.8 L1183.9,309.7 L1186.8,308.5 L1189.8,307.4 L1192.8,306.3 L1195.8,305.2 L1198.7,304.1 L1201.7,303.0 L1204.7,301.9 L1207.7,300.8 L1210.6,299.7 L1213.6,298.6 L1216.6,297.5 L1219.6,296.4 L1222.6,295.4 L1225.5,294.3 L1228.5,293.2 L1231.5,292.1 L1234.5,291.0 L1237.5,290.0 L1240.5,288.9 L1243.5,287.8 L1246.4,286.8 L1249.4,285.7 L1252.4,284.6 L1255.4,283.6 L1258.4,282.5 L1261.4,281.5 L1264.4,280.4 L1267.4,279.4 L1270.4,278.3 L1273.4,277.3 L1276.4,276.2 L1279.4,275.2 L1282.4,274.2 L1285.4,273.1 L1288.4,272.1 L1291.4,271.1 L1294.4,270.0 L1297.4,269.0 L1300.4,268.0 L1303.4,267.0 L1306.4,265.9 L1309.4,264.9 L1312.4,263.9 L1315.4,262.9 L1318.4,261.9 L1321.4,260.9 L1324.4,259.9 L1327.4,258.9 L1330.5,257.9 L1333.5,256.9 L1336.5,255.9 L1339.5,254.9 L1342.5,253.9 L1345.5,252.9 L1348.5,251.9 L1351.6,250.9 L1354.6,249.9 L1357.6,248.9 L1360.6,248.0 L1363.6,247.0 L1366.6,246.0 L1369.7,245.0 L1372.7,244.0 L1375.7,243.1 L1378.7,242.1 L1381.8,241.1 L1384.8,240.2 L1387.8,239.2 L1390.8,238.2 L1393.9,237.3 L1396.9,236.3 L1399.9,235.4 L1402.9,234.4 L1406.0,233.5 L1409.0,232.5 L1412.0,231.6 L1415.1,230.6 L1418.1,229.7 L1421.1,228.7 L1424.2,227.8 L1427.2,226.9 L1430.2,225.9 L1433.3,225.0 L1436.3,224.1 L1439.4,223.1 L1442.4,222.2 L1445.4,221.3 L1448.5,220.4 L1451.5,219.4 L1454.6,218.5 L1457.6,217.6 L1460.6,216.7 L1463.7,215.8 L1466.7,214.9 L1469.8,213.9 L1472.8,213.0 L1475.9,212.1 L1478.9,211.2 L1482.0,210.3 L1485.0,209.4 L1488.1,208.5 L1491.1,207.6 L1494.2,206.7 L1497.2,205.8 L1500.3,204.9 L1503.3,204.0 L1506.4,203.1 L1509.4,202.3 L1512.5,201.4 L1515.5,200.5 L1518.6,199.6 L1521.6,198.7 L1524.7,197.8 L1527.8,197.0 L1530.8,196.1 L1533.9,195.2 L1536.9,194.3 L1540.0,193.5 L1543.0,192.6 L1546.1,191.7 L1549.2,190.9 L1552.2,190.0 L1555.3,189.1 L1558.3,188.3 L1561.4,187.4 L1564.5,186.5 L1567.5,185.7 L1570.6,184.8 L1573.7,184.0 L1576.7,183.1 L1579.8,182.2 L1582.9,181.4 L1585.9,180.5 L1589.0,179.7 L1592.0,178.8 L1595.1,178.0 L1598.2,177.1 L1601.2,176.3 L1604.3,175.4 L1607.4,174.6 L1610.4,173.7 L1613.5,172.9 L1616.6,172.0 L1619.6,171.2 L1622.7,170.3 L1625.8,169.5 L1628.8,168.6 L1631.9,167.8 L1635.0,166.9 L1638.0,166.1 L1641.1,165.3 L1644.2,164.4 L1647.2,163.6 L1650.3,162.7 L1653.4,161.9 L1656.4,161.0 L1659.5,160.2 L1662.5,159.4 L1665.6,158.5 L1668.7,157.7 L1671.7,156.8 L1674.8,156.0 L1677.9,155.2 L1680.9,154.3 L1684.0,153.5 L1687.1,152.6 L1690.1,151.8 L1693.2,151.0 L1696.2,150.1 L1699.3,149.3 L1702.4,148.4 L1705.4,147.6 L1708.5,146.7 L1711.5,145.9 L1714.6,145.1 L1717.6,144.2 L1720.7,143.4 L1723.8,142.5 L1726.8,141.7 L1729.9,140.8 L1732.9,140.0 L1736.0,139.1 L1739.0,138.3 L1742.1,137.4 L1745.1,136.6 L1748.2,135.7 L1751.2,134.9 L1754.3,134.0 L1757.3,133.1 L1760.4,132.3 L1763.4,131.4 L1766.5,130.5 L1769.5,129.7 L1772.5,128.8 L1775.6,127.9 L1778.6,127.1 L1781.6,126.2 L1784.7,125.3 L1787.7,124.4 L1790.8,123.5 L1793.8,122.7 L1796.8,121.8 L1799.8,120.9 L1802.9,120.0 L1805.9,119.1 L1808.9,118.2 L1811.9,117.3 L1815.0,116.4 L1818.0,115.5 L1821.0,114.6 L1824.0,113.7" stroke="#f00" stroke-dasharray="19 27.6" stroke-dashoffset="-2.1"/>
</g>
<path d="M407.0,882.0 V1032.0" stroke="#f00" stroke-width="2.3" fill="none"/><path d="M392.5,882.0 H421.5 M392.5,1032.0 H421.5" stroke="#f00" stroke-width="3" fill="none"/>
<path d="M690.3,426.7 V554.1" stroke="#f00" stroke-width="2.3" fill="none"/><path d="M675.8,426.7 H704.8 M675.8,554.1 H704.8" stroke="#f00" stroke-width="3" fill="none"/>
<path d="M973.6,352.0 V389.0" stroke="#f00" stroke-width="2.3" fill="none"/><path d="M959.1,352.0 H988.1 M959.1,389.0 H988.1" stroke="#f00" stroke-width="3" fill="none"/>
<path d="M1256.9,267.9 V329.1" stroke="#f00" stroke-width="2.3" fill="none"/><path d="M1242.4,267.9 H1271.4 M1242.4,329.1 H1271.4" stroke="#f00" stroke-width="3" fill="none"/>
<path d="M1540.2,218.5 V254.5" stroke="#f00" stroke-width="2.3" fill="none"/><path d="M1525.7,218.5 H1554.7 M1525.7,254.5 H1554.7" stroke="#f00" stroke-width="3" fill="none"/>
<path d="M1823.5,74.5 V204.5" stroke="#f00" stroke-width="2.3" fill="none"/><path d="M1809.0,74.5 H1838.0 M1809.0,204.5 H1838.0" stroke="#f00" stroke-width="3" fill="none"/>
<path d="M407.0,779.8 L422.7,807.1 L391.3,807.1 Z" fill="none" stroke="#f00" stroke-width="2.7" stroke-linejoin="miter"/>
<path d="M690.3,500.8 L706.0,528.1 L674.6,528.1 Z" fill="none" stroke="#f00" stroke-width="2.7" stroke-linejoin="miter"/>
<path d="M973.6,369.8 L989.3,397.1 L957.9,397.1 Z" fill="none" stroke="#f00" stroke-width="2.7" stroke-linejoin="miter"/>
<path d="M1256.9,247.0 L1272.6,274.3 L1241.2,274.3 Z" fill="none" stroke="#f00" stroke-width="2.7" stroke-linejoin="miter"/>
<path d="M1540.2,195.6 L1555.9,222.9 L1524.5,222.9 Z" fill="none" stroke="#f00" stroke-width="2.7" stroke-linejoin="miter"/>
<path d="M1823.5,111.8 L1839.2,139.1 L1807.8,139.1 Z" fill="none" stroke="#f00" stroke-width="2.7" stroke-linejoin="miter"/>
<path d="M407.0,935.9 L425.3,967.6 L388.7,967.6 Z" fill="#f00"/>
<path d="M690.3,469.3 L708.6,501.0 L672.0,501.0 Z" fill="#f00"/>
<path d="M973.6,349.4 L991.9,381.1 L955.3,381.1 Z" fill="#f00"/>
<path d="M1256.9,277.4 L1275.2,309.1 L1238.6,309.1 Z" fill="#f00"/>
<path d="M1540.2,215.4 L1558.5,247.1 L1521.9,247.1 Z" fill="#f00"/>
<path d="M1823.5,118.4 L1841.8,150.1 L1805.2,150.1 Z" fill="#f00"/>
<g fill="none" stroke-width="6" stroke-linecap="round">
<path d="M938,1085 H1084" stroke="#000"/>
<path d="M938,1160 H1084" stroke="#000" stroke-dasharray="19 29"/>
<path d="M940.6,1235.2 H1088.4" stroke="#f00"/>
<path d="M944,1306.8 H1090.4" stroke="#f00" stroke-dasharray="19 29"/>
</g>
<rect x="1001.9" y="1071.7" width="27" height="27" fill="#000"/>
<rect x="1003.4" y="1147.3" width="24" height="24" fill="none" stroke="#000" stroke-width="3"/>
<path d="M1015.5,1212.8 L1033.8,1244.5 L997.2,1244.5 Z" fill="#f00"/>
<path d="M1015.5,1289.2 L1031.2,1316.5 L999.8,1316.5 Z" fill="none" stroke="#f00" stroke-width="2.7" stroke-linejoin="miter"/>
<g fill="#000">
<text x="1106.9" y="1107" font-size="64" font-weight="bold" font-style="normal">Experimental,</text>
<text x="1510.6" y="1107" font-size="66" font-weight="bold" font-style="italic" textLength="51.7" lengthAdjust="spacingAndGlyphs">N</text>
<text x="1574.3" y="1103.25" font-size="52" font-weight="bold" font-style="normal" textLength="42.2" lengthAdjust="spacingAndGlyphs">=</text>
<text x="1628.7" y="1107" font-size="64" font-weight="bold" font-style="normal">600</text>
<text x="1743.2" y="1107" font-size="64" font-weight="bold" font-style="normal">rpm</text>
<text x="1103.9" y="1180.6" font-size="64" font-weight="bold" font-style="normal">Predicted,</text>
<text x="1399.1" y="1180.6" font-size="66" font-weight="bold" font-style="italic" textLength="51.9" lengthAdjust="spacingAndGlyphs">N</text>
<text x="1462.2" y="1176.85" font-size="52" font-weight="bold" font-style="normal" textLength="42.2" lengthAdjust="spacingAndGlyphs">=</text>
<text x="1515.8" y="1180.6" font-size="64" font-weight="bold" font-style="normal">600</text>
<text x="1630.6" y="1180.6" font-size="64" font-weight="bold" font-style="normal">rpm</text>
<text x="1106.9" y="1254.9" font-size="64" font-weight="bold" font-style="normal">Experimental,</text>
<text x="1511.0" y="1254.9" font-size="66" font-weight="bold" font-style="italic" textLength="51.5" lengthAdjust="spacingAndGlyphs">N</text>
<text x="1574.1" y="1251.15" font-size="52" font-weight="bold" font-style="normal" textLength="42.2" lengthAdjust="spacingAndGlyphs">=</text>
<text x="1629.0" y="1254.9" font-size="64" font-weight="bold" font-style="normal">1200</text>
<text x="1775.2" y="1254.9" font-size="64" font-weight="bold" font-style="normal">rpm</text>
<text x="1106.0" y="1328.3" font-size="64" font-weight="bold" font-style="normal">Predicted,</text>
<text x="1401.0" y="1328.3" font-size="66" font-weight="bold" font-style="italic" textLength="51.4" lengthAdjust="spacingAndGlyphs">N</text>
<text x="1463.3" y="1324.55" font-size="52" font-weight="bold" font-style="normal" textLength="42.2" lengthAdjust="spacingAndGlyphs">=</text>
<text x="1517.8" y="1328.3" font-size="64" font-weight="bold" font-style="normal">1200</text>
<text x="1664.0" y="1328.3" font-size="64" font-weight="bold" font-style="normal">rpm</text>
</g>
</svg></body></html>
